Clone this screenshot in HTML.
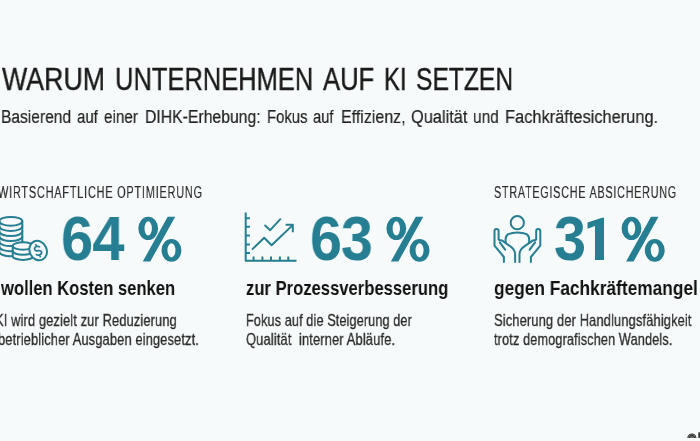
<!DOCTYPE html>
<html><head><meta charset="utf-8">
<style>
html,body{margin:0;padding:0;}
body{width:700px;height:441px;overflow:hidden;background:#f7fafa;position:relative;font-family:"Liberation Sans",sans-serif;}
.t{will-change:transform;position:absolute;white-space:nowrap;transform-origin:0 0;line-height:1;}
.ti{font-size:31px;color:#1a1a1a;-webkit-text-stroke:0.4px #1a1a1a;}
.su{font-size:19.2px;color:#222;-webkit-text-stroke:0.2px #222;}
.h{font-size:16px;color:#2b2b2b;letter-spacing:1.1px;-webkit-text-stroke:0.15px #2b2b2b;}
.n{font-size:63.5px;letter-spacing:-1px;font-weight:bold;color:#267e92;}
.b{font-size:20.8px;font-weight:bold;color:#111;}
.d{font-size:17px;letter-spacing:0.15px;color:#2b2b2b;-webkit-text-stroke:0.3px #2b2b2b;}
svg{position:absolute;}
</style></head><body>
<div id="t1" class="t ti" style="left:1.99px;top:64px;transform:scaleX(0.8631)">WARUM</div>
<div id="t2" class="t ti" style="left:115.04px;top:64px;transform:scaleX(0.8222)">UNTERNEHMEN</div>
<div id="t3" class="t ti" style="left:323.40px;top:64px;transform:scaleX(0.8260)">AUF</div>
<div id="t4" class="t ti" style="left:383.70px;top:64px;transform:scaleX(0.7682)">KI</div>
<div id="t5" class="t ti" style="left:416.18px;top:64px;transform:scaleX(0.7939)">SETZEN</div>
<div id="w1" class="t su" style="left:0.83px;top:107.2px;transform:scaleX(0.8112)">Basierend</div>
<div id="w2" class="t su" style="left:76.83px;top:107.2px;transform:scaleX(0.7821)">auf</div>
<div id="w3" class="t su" style="left:103.76px;top:107.2px;transform:scaleX(0.7960)">einer</div>
<div id="w4" class="t su" style="left:145.47px;top:107.2px;transform:scaleX(0.8215)">DIHK-Erhebung:</div>
<div id="w5" class="t su" style="left:266.79px;top:107.2px;transform:scaleX(0.7745)">Fokus</div>
<div id="w6" class="t su" style="left:313.24px;top:107.2px;transform:scaleX(0.7652)">auf</div>
<div id="w7" class="t su" style="left:341.30px;top:107.2px;transform:scaleX(0.8328)">Effizienz,</div>
<div id="w8" class="t su" style="left:410.57px;top:107.2px;transform:scaleX(0.8542)">Qualität</div>
<div id="w9" class="t su" style="left:473.43px;top:107.2px;transform:scaleX(0.8080)">und</div>
<div id="w10" class="t su" style="left:504.64px;top:107.2px;transform:scaleX(0.8547)">Fachkräftesicherung.</div>

<div id="h1" class="t h" style="left:-2.00px;top:185px;transform:scaleX(0.6856)">WIRTSCHAFTLICHE OPTIMIERUNG</div>
<div id="n1" class="t n" style="left:61.16px;top:206.8px;transform:scaleX(0.9120)">64</div>
<div id="b1" class="t b" style="left:1.00px;top:277.5px;transform:scaleX(0.7969)">wollen Kosten senken</div>
<div id="d1a" class="t d" style="left:-4.93px;top:312.2px;transform:scaleX(0.7580)">KI wird gezielt zur Reduzierung</div>
<div id="d1b" class="t d" style="left:-2.50px;top:330.7px;transform:scaleX(0.7585)">betrieblicher Ausgaben eingesetzt.</div>

<div id="n2" class="t n" style="left:309.78px;top:206.8px;transform:scaleX(0.9038)">63</div>
<div id="b2" class="t b" style="left:246.12px;top:277.5px;transform:scaleX(0.7991)">zur Prozessverbesserung</div>
<div id="d2a" class="t d" style="left:246.14px;top:312.2px;transform:scaleX(0.7457)">Fokus auf die Steigerung der</div>
<div id="d2b" class="t d" style="left:246.14px;top:330.7px;transform:scaleX(0.7613)">Qualität&nbsp; interner Abläufe.</div>

<div id="h3" class="t h" style="left:494.00px;top:185px;transform:scaleX(0.6761)">STRATEGISCHE ABSICHERUNG</div>
<div id="n3" class="t n" style="left:553.79px;top:206.8px;transform:scaleX(0.9062)">3</div>
<div id="b3" class="t b" style="left:493.76px;top:277.5px;transform:scaleX(0.8317)">gegen Fachkräftemangel</div>
<div id="d3a" class="t d" style="left:493.73px;top:312.2px;transform:scaleX(0.7601)">Sicherung der Handlungsfähigkeit</div>
<div id="d3b" class="t d" style="left:493.74px;top:330.7px;transform:scaleX(0.7496)">trotz demografischen Wandels.</div>

<svg width="700" height="441" style="left:0;top:0" viewBox="0 0 700 441">
<defs>
<g id="pct"><path fill="#267e92" fill-rule="evenodd" d="M0.00,11.65 a9.9,11.65 0 1 0 19.80,0 a9.9,11.65 0 1 0 -19.80,0 Z M6.20,11.65 a3.7,7.1 0 1 0 7.40,0 a3.7,7.1 0 1 0 -7.40,0 Z M23.20,33.55 a9.95,11.35 0 1 0 19.90,0 a9.95,11.35 0 1 0 -19.90,0 Z M29.15,33.55 a4,7.1 0 1 0 8.00,0 a4,7.1 0 1 0 -8.00,0 Z M4.5,44.6 L12,44.6 L36.9,0 L29.4,0 Z"/></g>
</defs>
<use href="#pct" x="138.3" y="216.8"/>
<use href="#pct" x="386.4" y="216.8"/>
<use href="#pct" x="621.6" y="216.8"/>
<polygon points="587.5,222.5 602,217.7 604,217.7 604,260 595,260 595,226 587.5,228.8" fill="#267e92"/>

<g fill="none" stroke="#267e92" stroke-width="2" stroke-linecap="round" stroke-linejoin="round">
<!-- coins -->
<path d="M-0.7,221.3 V251.9 A11.5,4.4 0 0 0 22.3,251.9 V221.3"/>
<ellipse cx="10.8" cy="221.3" rx="11.5" ry="4.4"/>
<path d="M-0.7,226.5 A11.5,4.4 0 0 0 22.3,226.5 M-0.7,231.6 A11.5,4.4 0 0 0 22.3,231.6 M-0.7,236.6 A11.5,4.4 0 0 0 22.3,236.6 M-0.7,241.7 A11.5,4.4 0 0 0 22.3,241.7 M-0.7,246.8 A11.5,4.4 0 0 0 22.3,246.8"/>
<path d="M12.7,246 V256.2 A10.3,3.7 0 0 0 33.3,256.2 V246 Z" fill="#f7fafa"/>
<ellipse cx="23" cy="246" rx="10.3" ry="3.7" fill="#f7fafa"/>
<path d="M12.7,251.1 A10.3,3.7 0 0 0 33.3,251.1"/>
<ellipse cx="38.15" cy="250.55" rx="8.5" ry="10" fill="#f7fafa" transform="rotate(-25 38.15 250.55)"/>
<path transform="translate(38.1,250.7) rotate(-20)" d="M2.7,-3.1 Q1.8,-4.4 0,-4.4 Q-2.8,-4.4 -2.8,-2.2 Q-2.8,-0.4 0,0 Q2.8,0.4 2.8,2.3 Q2.8,4.4 0,4.4 Q-2,4.4 -2.9,3.1 M0,-4.4 V-6.3 M0,4.4 V6.3" stroke-width="1.7"/>
</g>
<g fill="none" stroke="#267e92" stroke-width="2" stroke-linecap="butt" stroke-linejoin="round">
<!-- chart -->
<path d="M245.7,212.5 V260.8 H296.5"/>
<path d="M245.7,218.3 H249.9 M245.7,226.8 H249.9 M245.7,235.6 H249.9 M245.7,244.5 H249.9 M245.7,252.9 H249.9"/>
<path d="M253.6,260.8 V256.4 M262.4,260.8 V256.4 M271,260.8 V256.4 M279.9,260.8 V256.4 M288.3,260.8 V256.4"/>
<path d="M252,249.6 L264.2,237.7 L271.6,245.3 L292.4,225.4"/>
<path d="M285.6,224.7 H292.8 V232.2"/>
<path d="M264.5,225.1 L270.2,230.2 L280.8,218.6"/>
</g>
<g fill="none" stroke="#267e92" stroke-width="2" stroke-linecap="round" stroke-linejoin="round">
<!-- hands -->
<circle cx="517.3" cy="222.7" r="6.6"/>
<path d="M503.9,262 V257 L494.5,245.6 V231 A2.05,2.05 0 0 1 498.6,231 V239.5 Q499.5,240.4 502.2,240.6 L510.4,246.4 Q514.8,249.3 515.1,254 V262"/>
<path d="M530.9,262 V257 L540.3,245.6 V231 A2.05,2.05 0 0 0 536.2,231 V239.5 Q535.3,240.4 532.6,240.6 L524.4,246.4 Q519.8,249.3 519.5,254 V262"/>
<path d="M499.8,242.3 L505.1,249.7 M535.0,242.3 L529.7,249.7"/>
<path d="M505.9,243 Q504.6,236.5 508.2,234.2 Q512,232.4 517.4,232.4 Q522.8,232.4 526.6,234.2 Q530.2,236.5 528.9,243"/>
</g>
<g fill="none" stroke="#2a2a2a" stroke-width="1.1">
<path d="M687.9,438 A4,4 0 0 1 695.9,438 M689.3,438 A2.6,2.6 0 0 1 694.5,438 M690.7,438 A1.2,1.2 0 0 1 693.1,438"/>
</g>
<rect x="698.3" y="432.3" width="1.7" height="5.7" fill="#333"/>
</svg>
</body></html>
